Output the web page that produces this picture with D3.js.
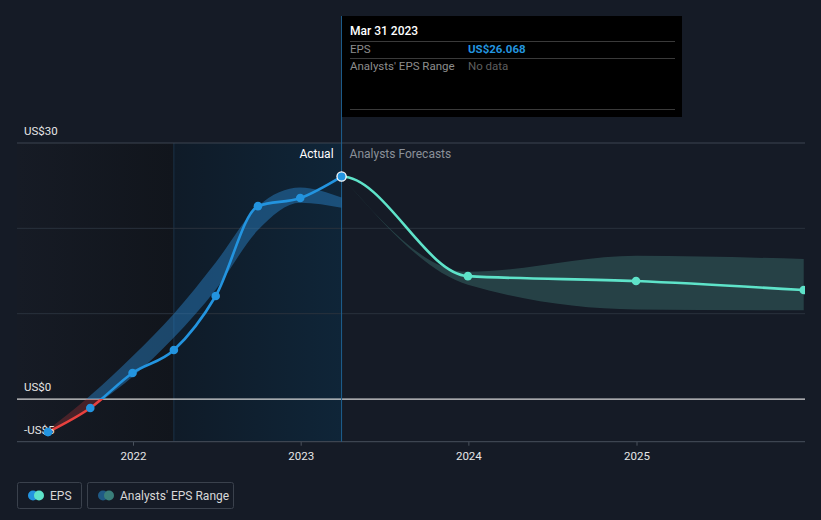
<!DOCTYPE html>
<html><head><meta charset="utf-8">
<script src="https://cdn.jsdelivr.net/npm/d3@7"></script>
<style>
html,body{margin:0;padding:0;background:#151b26;}
svg{display:block;font-family:Roboto,"Noto Sans",sans-serif;}
</style></head>
<body><svg id="c" width="821" height="520"></svg>
<script>
const actualDates = ["2021-06-30","2021-09-30","2021-12-31","2022-03-31","2022-06-30","2022-09-30","2022-12-31","2023-03-31"];
const actualEPS   = [-3.87, -1.05, 3.05, 5.74, 12.07, 22.6, 23.55, 26.068];
const pastRangeHigh = [-3.6, 0.4, 5.0, 10.0, 16.0, 22.6, 24.8, 23.6];
const pastRangeLow  = [-4.0, -1.1, 2.6, 7.2, 12.8, 19.8, 23.0, 22.4];
const forecastDates = ["2023-03-31","2023-12-31","2024-12-31","2025-12-31"];
const forecastEPS   = [26.068, 14.4, 13.83, 12.77];
const forecastHigh  = [26.068, 14.9, 16.8, 16.4];
const forecastLow   = [26.068, 13.4, 10.5, 10.4];
const yTicks = [30, 0, -5];
const yTickLabels = ["US$30", "US$0", "-US$5"];
const gridValues = [20, 10];
const xTickYears = [2022, 2023, 2024, 2025];
const tooltipDate = "Mar 31 2023";
const tooltipEPS = "US$26.068";

const parse = d3.timeParse("%Y-%m-%d");
const svg = d3.select("#c");
const L = 17, R = 805, T = 143, B = 441.7;
const x = d3.scaleTime().domain([new Date(2022,0,1), new Date(2025,0,1)]).range([133, 636.5]);
const y = d3.scaleLinear().domain([-5, 30]).range([B, T]);

const actual = actualDates.map((d,i)=>({d:parse(d), v:actualEPS[i], hi:pastRangeHigh[i], lo:pastRangeLow[i]}));
const fc = forecastDates.map((d,i)=>({d:parse(d), v:forecastEPS[i], hi:forecastHigh[i], lo:forecastLow[i]}));
const xNow = x(parse("2023-03-31"));
const xYearAgo = x(parse("2022-03-31"));

const defs = svg.append("defs");
const g1 = defs.append("linearGradient").attr("id","gLeft").attr("x1",0).attr("x2",1);
g1.append("stop").attr("offset",0).attr("stop-color","#161b25");
g1.append("stop").attr("offset",1).attr("stop-color","#11151c");
const g2 = defs.append("linearGradient").attr("id","gPast").attr("x1",0).attr("x2",1);
g2.append("stop").attr("offset",0).attr("stop-color","#0f1b28");
g2.append("stop").attr("offset",1).attr("stop-color","#0f2538");

defs.append("clipPath").attr("id","cPlot").append("rect").attr("x",L).attr("y",0).attr("width",R-L).attr("height",B);
defs.append("clipPath").attr("id","cPos").append("rect").attr("x",L).attr("y",0).attr("width",R-L).attr("height",y(0));
defs.append("clipPath").attr("id","cNeg").append("rect").attr("x",L).attr("y",y(0)).attr("width",R-L).attr("height",B-y(0)+10);
defs.append("clipPath").attr("id","cFc").append("rect").attr("x",xNow).attr("y",0).attr("width",R-xNow).attr("height",B+10);

// background regions
svg.append("rect").attr("x",L).attr("y",T).attr("width",xYearAgo-L).attr("height",B-T).attr("fill","url(#gLeft)");
svg.append("rect").attr("x",xYearAgo).attr("y",T).attr("width",xNow-xYearAgo).attr("height",B-T).attr("fill","url(#gPast)");
svg.append("line").attr("x1",xYearAgo).attr("x2",xYearAgo).attr("y1",T).attr("y2",B).attr("stroke","#1a3247").attr("stroke-width",1);

// grid
gridValues.forEach(v=>svg.append("line").attr("x1",L).attr("x2",R).attr("y1",y(v)).attr("y2",y(v)).attr("stroke","#2a323d").attr("stroke-width",1));
svg.append("line").attr("x1",L).attr("x2",R).attr("y1",y(30)).attr("y2",y(30)).attr("stroke","#3d4551").attr("stroke-width",1);
svg.append("line").attr("x1",L).attr("x2",R).attr("y1",y(0)).attr("y2",y(0)).attr("stroke","#d8d8d8").attr("stroke-width",1.2);

// x axis
const xAxis = d3.axisBottom(x).tickValues(xTickYears.map(yr=>new Date(yr,0,1))).tickFormat(d3.timeFormat("%Y")).tickSize(4).tickPadding(6);
const ax = svg.append("g").attr("transform",`translate(0,${B})`).call(xAxis);
ax.select(".domain").remove();
ax.selectAll(".tick line").attr("stroke","#4a525d");
ax.selectAll(".tick text").attr("fill","#e6e6e6").attr("font-size",11.5).attr("font-family","Roboto,sans-serif");
svg.append("line").attr("x1",L).attr("x2",R).attr("y1",B).attr("y2",B).attr("stroke","#3d4551").attr("stroke-width",1.2);

// now line
svg.append("line").attr("x1",xNow).attr("x2",xNow).attr("y1",16).attr("y2",B).attr("stroke","#1d5f8f").attr("stroke-width",1);

const plot = svg.append("g").attr("clip-path","url(#cPlot)");
const curve = d3.curveMonotoneX;
const area = d3.area().x(d=>x(d.d)).y0(d=>y(d.lo)).y1(d=>y(d.hi)).curve(curve);
const line = d3.line().x(d=>x(d.d)).y(d=>y(d.v)).curve(curve);

// past analyst range
plot.append("path").attr("d",area(actual)).attr("fill","#2a86cc").attr("fill-opacity",0.45).attr("clip-path","url(#cPos)");
plot.append("path").attr("d",area(actual)).attr("fill","#c0393b").attr("fill-opacity",0.3).attr("clip-path","url(#cNeg)");
// forecast range
plot.append("path").attr("d",area(fc)).attr("fill","#2c4f52").attr("fill-opacity",0.75);

// actual line
plot.append("path").attr("d",line(actual)).attr("fill","none").attr("stroke","#2394df").attr("stroke-width",2.6).attr("clip-path","url(#cPos)");
plot.append("path").attr("d",line(actual)).attr("fill","none").attr("stroke","#e8413e").attr("stroke-width",2.6).attr("clip-path","url(#cNeg)");
// forecast line (with previous actual point for tangent)
const fcLineData = [actual[actual.length-2]].concat(fc);
plot.append("g").attr("clip-path","url(#cFc)").append("path").attr("d",line(fcLineData)).attr("fill","none").attr("stroke","#5ee3c9").attr("stroke-width",2.6);

// points
plot.selectAll("circle.a").data(actual.slice(0,-1)).join("circle").attr("cx",d=>x(d.d)).attr("cy",d=>y(d.v)).attr("r",4.3).attr("fill","#2394df");
plot.selectAll("circle.f").data(fc.slice(1)).join("circle").attr("cx",d=>x(d.d)).attr("cy",d=>y(d.v)).attr("r",4.3).attr("fill","#5ee3c9");
const last = actual[actual.length-1];
plot.append("circle").attr("cx",x(last.d)).attr("cy",y(last.v)).attr("r",4.6).attr("fill","#2394df").attr("stroke","#ffffff").attr("stroke-width",1.3);

// y labels
yTicks.forEach((v,i)=>svg.append("text").attr("x",24).attr("y",y(v)-8).attr("fill","#e6e6e6").attr("font-size",11.5).text(yTickLabels[i]));
// re-draw first point above label
svg.append("circle").attr("cx",x(actual[0].d)).attr("cy",y(actual[0].v)).attr("r",4.3).attr("fill","#2394df");

// section labels
svg.append("text").attr("x",xNow-8).attr("y",158).attr("text-anchor","end").attr("fill","#ffffff").attr("font-size",12).text("Actual");
svg.append("text").attr("x",xNow+8).attr("y",158).attr("fill","#8a9098").attr("font-size",12).text("Analysts Forecasts");

// tooltip
const tt = svg.append("g");
tt.append("rect").attr("x",342).attr("y",16).attr("width",340).attr("height",101).attr("fill","#000000");
tt.append("text").attr("x",350).attr("y",35).attr("fill","#ffffff").attr("font-size",12).attr("font-weight",500).text(tooltipDate);
[41.5,58.5,109.5].forEach(yy=>tt.append("line").attr("x1",350).attr("x2",675).attr("y1",yy).attr("y2",yy).attr("stroke","#3a3a3a").attr("stroke-width",1));
tt.append("text").attr("x",350).attr("y",53).attr("fill","#8d8d8d").attr("font-size",11.5).text("EPS");
tt.append("text").attr("x",468).attr("y",53).attr("fill","#2394df").attr("font-size",11.5).attr("font-weight",700).text(tooltipEPS);
tt.append("text").attr("x",350).attr("y",70).attr("fill","#8d8d8d").attr("font-size",11.5).text("Analysts' EPS Range");
tt.append("text").attr("x",468).attr("y",70).attr("fill","#5e5e5e").attr("font-size",11.5).text("No data");

// legend
const lg = svg.append("g");
lg.append("rect").attr("x",17.5).attr("y",482.5).attr("width",64).attr("height",26).attr("rx",2).attr("fill","none").attr("stroke","#3a414c");
lg.append("circle").attr("cx",33).attr("cy",495.5).attr("r",5).attr("fill","#2394df");
lg.append("circle").attr("cx",39).attr("cy",495.5).attr("r",5).attr("fill","#5ee3c9");
lg.append("text").attr("x",50).attr("y",499.5).attr("fill","#d8d8d8").attr("font-size",12).text("EPS");
lg.append("rect").attr("x",87.5).attr("y",482.5).attr("width",146).attr("height",26).attr("rx",2).attr("fill","none").attr("stroke","#3a414c");
lg.append("circle").attr("cx",103).attr("cy",495.5).attr("r",5).attr("fill","#1f5a85");
lg.append("circle").attr("cx",109).attr("cy",495.5).attr("r",5).attr("fill","#3a7f7a");
lg.append("text").attr("x",120).attr("y",499.5).attr("fill","#d8d8d8").attr("font-size",12).text("Analysts' EPS Range");
</script></body></html>
